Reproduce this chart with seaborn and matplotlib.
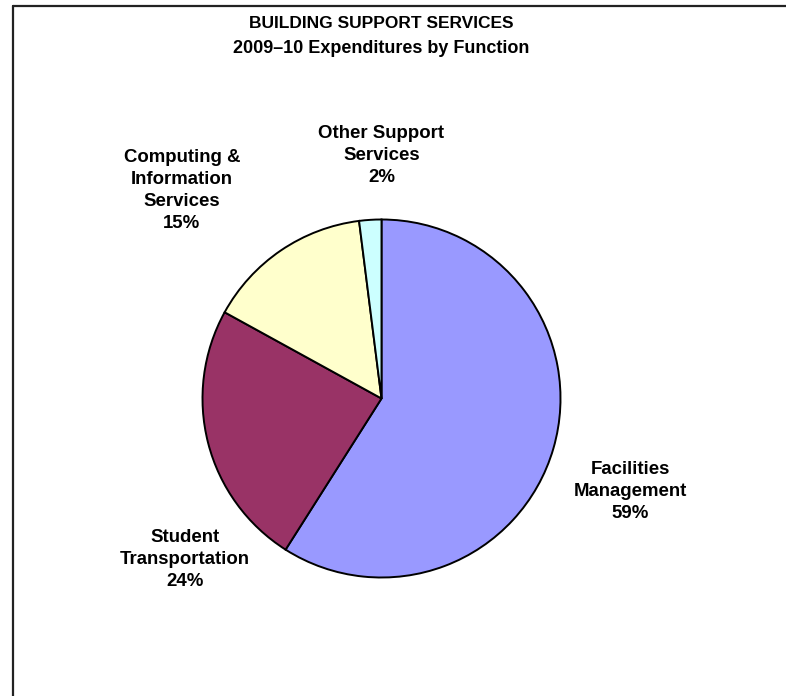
import matplotlib
matplotlib.use("Agg")
import matplotlib.pyplot as plt
from matplotlib.lines import Line2D
import seaborn as sns

# Building support services, 2009-10 expenditures by function
categories = ["Facilities\nManagement", "Student\nTransportation",
              "Computing &\nInformation\nServices", "Other Support\nServices"]
shares = [59, 24, 15, 2]
slice_colors = ["#9999FF", "#993366", "#FFFFCC", "#CCFFFF"]
title_lines = ["BUILDING SUPPORT SERVICES", "2009\u201310 Expenditures by Function"]

sns.set_theme(style="white")
plt.rcParams["font.family"] = ["Liberation Sans", "DejaVu Sans"]

W, H = 786, 696
fig = plt.figure(figsize=(W / 100, H / 100), dpi=100)
fig.patch.set_facecolor("white")

# pie axes: centre (381.5, 398.5) px, radius 179 px
cx, cy, r = 381.5, 398.5, 179.0
ax = fig.add_axes([(cx - r) / W, (H - cy - r) / H, 2 * r / W, 2 * r / H])
wedges, _ = ax.pie(shares, colors=slice_colors, startangle=90, counterclock=False,
                   wedgeprops=dict(edgecolor="black", linewidth=1.4))
ax.set_xlim(-1, 1)
ax.set_ylim(-1, 1)
ax.set_aspect("equal")
ax.axis("off")

# category labels with their percentages
label_pos = [(1.39, -0.52), (-1.10, -0.90), (-1.115, 1.16), (0.0, 1.36)]
for name, val, (lx, ly) in zip(categories, shares, label_pos):
    ax.text(lx, ly, f"{name}\n{val}%", ha="center", va="center",
            fontsize=13.4, fontweight="bold", color="black",
            linespacing=1.38, clip_on=False)

# title
fig.text(cx / W, 1 - 24 / H, title_lines[0], ha="center", va="center",
         fontsize=12.5, fontweight="bold", color="black")
fig.text(cx / W, 1 - 48.5 / H, title_lines[1], ha="center", va="center",
         fontsize=13, fontweight="bold", color="black")

# frame edges (top and left)
fig.add_artist(Line2D([13 / W, 1.0], [1 - 5.5 / H, 1 - 5.5 / H],
                      transform=fig.transFigure, color="#222222", linewidth=1.6))
fig.add_artist(Line2D([13 / W, 13 / W], [1 - 5.5 / H, 0.0],
                      transform=fig.transFigure, color="#222222", linewidth=1.6))

fig.savefig("out.png", dpi=100, facecolor="white")
